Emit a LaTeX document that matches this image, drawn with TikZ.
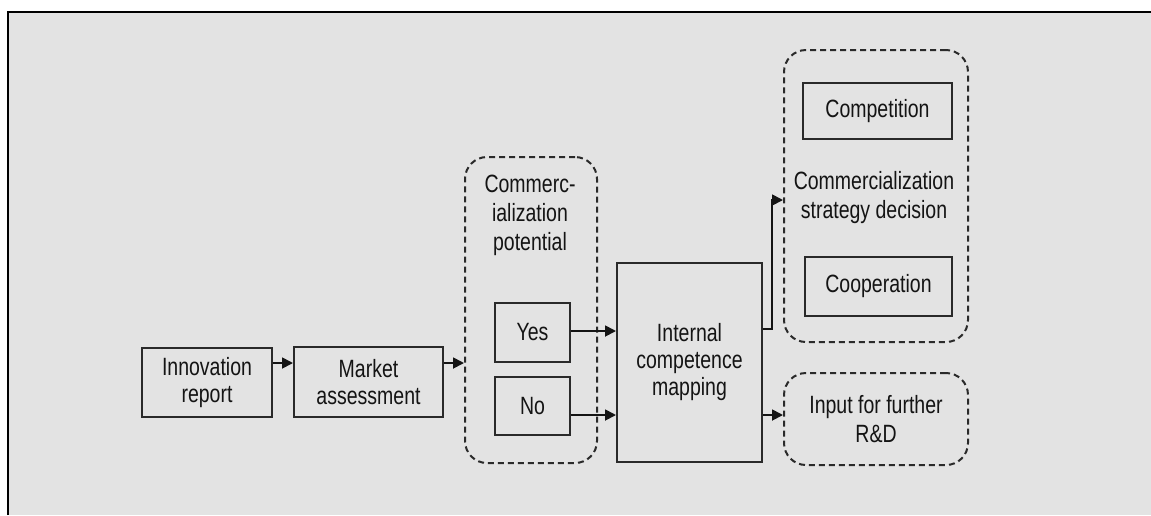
\documentclass[tikz,border=0pt]{standalone}
\usepackage{fontspec}
\setmainfont{Liberation Sans}[FakeStretch=0.78]
\usetikzlibrary{arrows.meta}
\definecolor{panel}{HTML}{E3E3E3}
\definecolor{ink}{HTML}{141414}
\definecolor{edge}{HTML}{2A2A2A}
\tikzset{
  box/.style={draw=edge, line width=2pt, inner sep=0pt, align=center,
    text=ink, font=\fontsize{25}{27}\selectfont},
  group/.style={draw=edge, line width=2pt, dash pattern=on 6pt off 4pt,
    rounded corners=22pt, inner sep=0pt, align=center, text=ink,
    font=\fontsize{25}{29}\selectfont},
  label/.style={align=center, text=ink, inner sep=0pt,
    font=\fontsize{25}{29}\selectfont},
  flow/.style={draw=ink, line width=1.8pt, -{Triangle[length=11pt,width=11pt]}}
}
\begin{document}
\begin{tikzpicture}[x=1pt,y=-1pt]
  \useasboundingbox (0,0) rectangle (1151,515);
  % panel with its top and left rules
  \fill[white] (0,0) rectangle (1151,515);
  \fill[panel] (8,12) rectangle (1151,515);
  \draw[black, line width=2pt] (7.5,515) -- (7.5,11.5) -- (1151,11.5);

  % main chain
  \node[box, minimum width=130pt, minimum height=69pt] (inno) at (207,382.5) {Innovation\\report};
  \node[box, minimum width=149pt, minimum height=70pt] (market) at (368.5,382) {Market\\assessment};

  % commercialization potential group
  \node[group, minimum width=132pt, minimum height=306pt] (pot) at (531,310) {};
  \node[label] (potlbl) at (530,215) {Commerc-\\ialization\\potential};
  \node[box, minimum width=75pt, minimum height=59pt] (yes) at (532.5,332.5) {Yes};
  \node[box, minimum width=75pt, minimum height=58pt] (no) at (532.5,406) {No};

  \node[box, minimum width=145pt, minimum height=199pt] (icm) at (689.5,362.5) {Internal\\competence\\mapping};

  % strategy decision group
  \node[group, minimum width=184pt, minimum height=292pt] (strat) at (876,196) {};
  \node[box, minimum width=149pt, minimum height=56pt] (comp) at (877.5,111) {Competition};
  \node[label] (stratlbl) at (874,198) {Commercialization\\strategy decision};
  \node[box, minimum width=147pt, minimum height=59pt] (coop) at (878.5,286.5) {Cooperation};

  \node[group, minimum width=184pt, minimum height=92pt] (rd) at (876,419) {Input for further\\R\&D};

  % connectors
  \coordinate (bend) at (772,329);
  \draw[flow] (inno.east |- 0,363) -- (market.west |- 0,363);
  \draw[flow] (market.east |- 0,363) -- (pot.west |- 0,363);
  \draw[flow] (yes.east |- 0,331) -- (icm.west |- 0,331);
  \draw[flow] (no.east |- 0,415) -- (icm.west |- 0,415);
  \draw[flow] (icm.east |- bend) -- (bend) -- (bend |- 0,200) -- (strat.west |- 0,200);
  \draw[flow] (icm.east |- 0,415) -- (rd.west |- 0,415);
\end{tikzpicture}
\end{document}
